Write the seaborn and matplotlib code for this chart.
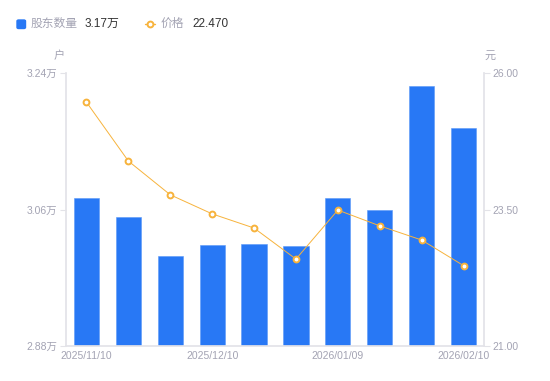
import matplotlib
matplotlib.use('Agg')
import matplotlib.pyplot as plt
import seaborn as sns
from matplotlib.lines import Line2D
from matplotlib.patches import FancyBboxPatch

# data
dates = ['2025/11/10', '2025/11/20', '2025/11/30', '2025/12/10', '2025/12/20',
         '2025/12/31', '2026/01/09', '2026/01/20', '2026/01/30', '2026/02/10']
holders = [3.075, 3.050, 2.999, 3.013, 3.015, 3.012, 3.075, 3.059, 3.223, 3.168]  # 万户
price = [25.47, 24.39, 23.77, 23.42, 23.16, 22.59, 23.49, 23.20, 22.94, 22.47]  # 元

BLUE = '#2878f5'
ORANGE = '#f7b33c'
GRAY = '#a3a3b3'
DARK = '#333333'
SPINE = '#e3e3e8'

sns.set_theme(style='white')
plt.rcParams['font.family'] = ['Liberation Sans', 'Noto Sans CJK SC', 'DejaVu Sans']

fig = plt.figure(figsize=(5.5, 3.81), dpi=100)
ax = fig.add_axes([0.1191, 0.0926, 0.7618, 0.715])

sns.barplot(x=dates, y=holders, color=BLUE, saturation=1, width=0.6,
            edgecolor='#5a98f8', linewidth=0.4, ax=ax)
ax.set_ylim(2.88, 3.24)
ax.set_xlim(-0.5, 9.5)
ax.set_yticks([2.88, 3.06, 3.24])
ax.set_yticklabels([f'{v:.2f}万' for v in [2.88, 3.06, 3.24]])
ax.set_xticks([0, 3, 6, 9])
ax.set_xticklabels([dates[i] for i in [0, 3, 6, 9]])
ax.set_xlabel('')
ax.set_ylabel('')

ax2 = ax.twinx()
sns.lineplot(x=list(range(len(price))), y=price, ax=ax2, color=ORANGE, linewidth=0.7,
             marker='o', markersize=4.2, markerfacecolor='white',
             markeredgecolor=ORANGE, markeredgewidth=1.4, sort=False)
ax2.set_ylim(21, 26)
ax2.set_yticks([21, 23.5, 26])
ax2.set_yticklabels([f'{v:.2f}' for v in [21, 23.5, 26]])
ax2.set_xlim(-0.5, 9.5)

for a in (ax, ax2):
    for s in a.spines.values():
        s.set_visible(False)
    a.tick_params(axis='both', labelsize=7.5, colors=GRAY, length=0, pad=3)
    a.grid(False)

ax.spines['left'].set_visible(True)
ax.spines['left'].set_color(SPINE)
ax.spines['bottom'].set_visible(True)
ax.spines['bottom'].set_color(SPINE)
ax2.spines['right'].set_visible(True)
ax2.spines['right'].set_color(SPINE)
ax.tick_params(axis='y', length=4, color=SPINE, width=0.8, pad=2)
ax2.tick_params(axis='y', length=4, color=SPINE, width=0.8, pad=2)
ax.tick_params(axis='x', pad=4)

# axis units
fig.text(59 / 550, 1 - 56 / 381, '户', fontsize=8, color=GRAY, ha='center', va='center')
fig.text(490 / 550, 1 - 56 / 381, '元', fontsize=8, color=GRAY, ha='center', va='center')

# legend
ly = 1 - 24 / 381
fig.patches.append(FancyBboxPatch((17 / 550, 1 - 28.5 / 381), 8.5 / 550, 8.5 / 381,
                                  boxstyle='round,pad=0,rounding_size=0.003',
                                  transform=fig.transFigure, color=BLUE, figure=fig))
fig.text(31 / 550, ly, '股东数量', fontsize=8.5, color=GRAY, va='center')
fig.text(85 / 550, ly, '3.17万', fontsize=8.5, color=DARK, va='center')
fig.add_artist(Line2D([145 / 550, 155 / 550], [ly, ly], color=ORANGE, linewidth=1,
                      transform=fig.transFigure))
fig.add_artist(Line2D([150 / 550], [ly], color=ORANGE, marker='o', markersize=4.2,
                      markerfacecolor='white', markeredgewidth=1.4, transform=fig.transFigure))
fig.text(161 / 550, ly, '价格', fontsize=8.5, color=GRAY, va='center')
fig.text(192 / 550, ly, '22.470', fontsize=8.5, color=DARK, va='center')

fig.savefig('out.png', dpi=100)
